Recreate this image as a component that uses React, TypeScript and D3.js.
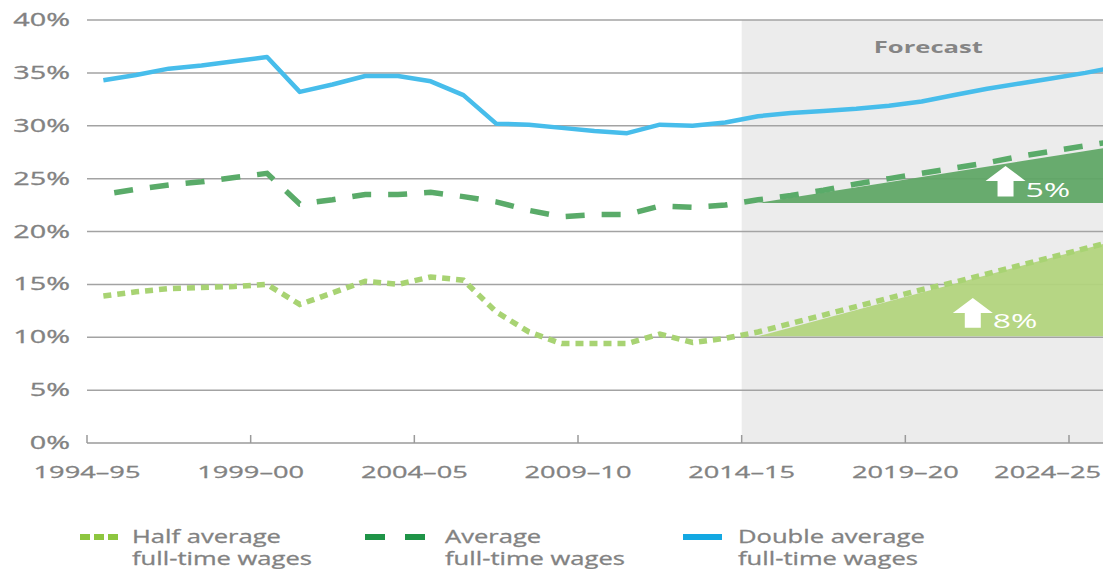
import { useEffect, useRef } from 'react';
import * as d3 from 'd3';

const categories = [
    '1994–95', '1995–96', '1996–97', '1997–98', '1998–99', '1999–00', '2000–01', '2001–02',
    '2002–03', '2003–04', '2004–05', '2005–06', '2006–07', '2007–08', '2008–09', '2009–10',
    '2010–11', '2011–12', '2012–13', '2013–14', '2014–15', '2015–16', '2016–17', '2017–18',
    '2018–19', '2019–20', '2020–21', '2021–22', '2022–23', '2023–24', '2024–25', '2025–26',
];

const halfAvg = [
    13.9, 14.3, 14.6, 14.7, 14.8, 15.0, 13.1, 14.2, 15.3, 15.0, 15.7, 15.4, 12.4, 10.5, 9.4, 9.4,
    9.4, 10.3, 9.5, 9.9, 10.5, 11.3, 12.1, 12.9, 13.7, 14.5, 15.2, 16.0, 16.8, 17.6, 18.4, 19.2,
];
const avg = [
    23.5, 24.0, 24.4, 24.7, 25.1, 25.5, 22.6, 23.0, 23.5, 23.5, 23.7, 23.3, 22.8, 22.0, 21.4, 21.6,
    21.6, 22.4, 22.3, 22.5, 23.0, 23.4, 23.9, 24.5, 25.0, 25.5, 26.0, 26.5, 27.1, 27.6, 28.1, 28.6,
];
const doubleAvg = [
    34.3, 34.8, 35.4, 35.7, 36.1, 36.5, 33.2, 33.9, 34.7, 34.7, 34.2, 32.9, 30.2, 30.1, 29.8, 29.5,
    29.3, 30.1, 30.0, 30.3, 30.9, 31.2, 31.4, 31.6, 31.9, 32.3, 32.9, 33.5, 34.0, 34.5, 35.0, 35.6,
];

const yTicks = [0, 5, 10, 15, 20, 25, 30, 35, 40];
const xTickLabels = ['1994–95', '1999–00', '2004–05', '2009–10', '2014–15', '2019–20', '2024–25'];
const forecastStart = '2014–15';

// forecast growth wedges: [category, base, top]
const avgWedge = [['2014–15', 22.7, 22.7], ['2025–26', 22.7, 28.1]] as const;
const halfWedge = [['2014–15', 10.1, 10.1], ['2025–26', 10.1, 19.2]] as const;

const growthArrows = [
    { cat: '2022–23', bottom: 23.3, top: 26.2, label: '5%' },
    { cat: '2021–22', bottom: 10.9, top: 13.7, label: '8%' },
];

const legendItems = [
    { label: ['Half average', 'full-time wages'], color: '#8dc63f', dash: '10,4' },
    { label: ['Average', 'full-time wages'], color: '#1f9447', dash: '20,20' },
    { label: ['Double average', 'full-time wages'], color: '#13a8e2', dash: null },
];

export default function App() {
    const svgRef = useRef<SVGSVGElement>(null);

    useEffect(() => {
        if (!svgRef.current) return;
        const W = 1108, H = 569;
        const left = 87, right = 1103, top = 20, bottom = 443;
        const step = (1069 - 87) / 30;
        const sx = 1.6; // the original artwork is stretched horizontally
        const font = '"Open Sans", "DejaVu Sans", sans-serif';
        const grey = '#828282';

        const svg = d3.select(svgRef.current);
        svg.selectAll('*').remove();

        const x = d3.scaleBand().domain(categories).range([left, left + step * categories.length]);
        const cx = (c: string) => x(c)! + x.bandwidth() / 2;
        const y = d3.scaleLinear().domain([0, 40]).range([bottom, top]);

        svg.append('defs').append('clipPath').attr('id', 'plot')
            .append('rect').attr('x', left).attr('y', 0).attr('width', right - left).attr('height', H);

        // Forecast shading
        const fx = x(forecastStart)!;
        svg.append('rect')
            .attr('x', fx).attr('y', y(40)).attr('width', right - fx).attr('height', y(0) - y(40))
            .attr('fill', '#ececec');
        svg.append('text')
            .attr('transform', `translate(${(fx + right) / 2 + 6},${y(40) + 33}) scale(${sx},1)`)
            .attr('text-anchor', 'middle').attr('font-family', font).attr('font-weight', 700)
            .attr('font-size', 16).attr('fill', '#858585').text('Forecast');

        // Gridlines + y labels
        for (const t of yTicks) {
            if (t > 0) {
                svg.append('line')
                    .attr('x1', left).attr('x2', right).attr('y1', y(t)).attr('y2', y(t))
                    .attr('stroke', '#a3a3a3').attr('stroke-width', 1.5);
            }
            svg.append('text')
                .attr('transform', `translate(70,${y(t) + 6}) scale(${sx},1)`)
                .attr('text-anchor', 'end').attr('font-family', font)
                .attr('font-size', 18).attr('fill', grey)
                .attr('stroke', grey).attr('stroke-width', 0.3).text(`${t}%`);
        }

        const plot = svg.append('g').attr('clip-path', 'url(#plot)');

        // Growth wedges
        const wedge = d3.area<readonly [string, number, number]>()
            .x(d => cx(d[0])).y0(d => y(d[1])).y1(d => y(d[2]));
        plot.append('path').datum(avgWedge).attr('d', wedge as any)
            .attr('fill', '#5ea664').attr('fill-opacity', 0.93);
        plot.append('path').datum(halfWedge).attr('d', wedge as any)
            .attr('fill', '#b1d47c').attr('fill-opacity', 0.93);

        // Series lines
        const line = d3.line<number>().x((_, i) => cx(categories[i])).y(d => y(d));
        plot.append('path').datum(doubleAvg).attr('d', line)
            .attr('fill', 'none').attr('stroke', '#47bdeb').attr('stroke-width', 4.5)
            .attr('stroke-linejoin', 'round');
        plot.append('path').datum(avg).attr('d', line)
            .attr('fill', 'none').attr('stroke', '#5aab69').attr('stroke-width', 5.5)
            .attr('stroke-dasharray', '19,17').attr('stroke-dashoffset', 25);
        plot.append('path').datum(halfAvg).attr('d', line)
            .attr('fill', 'none').attr('stroke', '#a8d373').attr('stroke-width', 5.5)
            .attr('stroke-dasharray', '8,6');

        // Growth arrows
        for (const a of growthArrows) {
            const ax = x(a.cat)! + 2;
            const yt = y(a.top), yb = y(a.bottom), head = 15;
            const pts: [number, number][] = [
                [ax, yt], [ax + 20, yt + head], [ax + 8, yt + head], [ax + 8, yb],
                [ax - 8, yb], [ax - 8, yt + head], [ax - 20, yt + head],
            ];
            svg.append('path').attr('d', d3.line()(pts) + 'Z').attr('fill', '#ffffff');
            svg.append('text')
                .attr('transform', `translate(${ax + 20},${yb}) scale(${sx},1)`)
                .attr('font-family', font).attr('font-size', 20).attr('fill', '#ffffff')
                .text(a.label);
        }

        // X axis
        svg.append('line')
            .attr('x1', left).attr('x2', right).attr('y1', bottom).attr('y2', bottom)
            .attr('stroke', '#9a9a9a').attr('stroke-width', 1.5);
        xTickLabels.forEach((c, i) => {
            const tx = x(c)!;
            const last = i === xTickLabels.length - 1;
            svg.append('line')
                .attr('x1', tx).attr('x2', tx).attr('y1', bottom).attr('y2', bottom - 8)
                .attr('stroke', '#9a9a9a').attr('stroke-width', 1.5);
            svg.append('text')
                .attr('transform', `translate(${last ? right - 2 : tx},${bottom + 35}) scale(${sx},1)`)
                .attr('text-anchor', last ? 'end' : 'middle').attr('font-family', font)
                .attr('font-size', 17).attr('fill', grey)
                .attr('stroke', grey).attr('stroke-width', 0.3).text(c);
        });

        // Legend
        const legX = [80, 365, 683];
        legendItems.forEach((it, i) => {
            const g = svg.append('g').attr('transform', `translate(${legX[i]},537)`);
            g.append('line').attr('x1', 0).attr('x2', i === 1 ? 62 : 39).attr('y1', 0).attr('y2', 0)
                .attr('stroke', it.color).attr('stroke-width', 6)
                .attr('stroke-dasharray', it.dash ?? null);
            it.label.forEach((l, j) => {
                g.append('text')
                    .attr('transform', `translate(${i === 0 ? 52 : i === 1 ? 80 : 55},${6 + j * 22}) scale(1.42,1)`)
                    .attr('font-family', font).attr('font-size', 18).attr('fill', grey)
                    .attr('stroke', grey).attr('stroke-width', 0.3).text(l);
            });
        });

        svg.attr('width', W).attr('height', H);
    }, []);

    return (
        <svg ref={svgRef} width={1108} height={569}
            style={{ position: 'absolute', left: 0, top: 0, background: '#fff' }} />
    );
}
